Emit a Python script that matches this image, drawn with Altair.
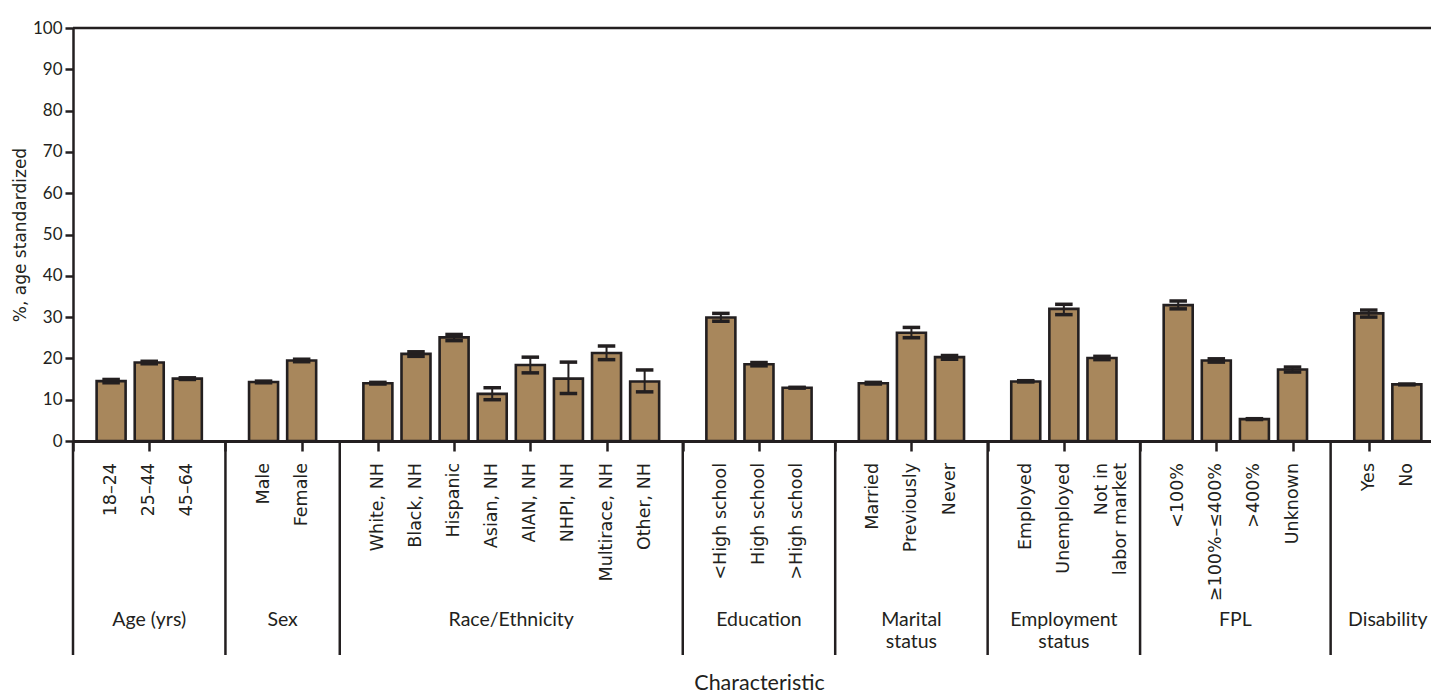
import altair as alt
import pandas as pd

# ---- data ----
groups = ["Age (yrs)", "Sex", "Race/Ethnicity", "Education", "Marital\nstatus",
          "Employment\nstatus", "FPL", "Disability"]
group_cats = [
    ["18–24", "25–44", "45–64"],
    ["Male", "Female"],
    ["White, NH", "Black, NH", "Hispanic", "Asian, NH", "AIAN, NH", "NHPI, NH",
     "Multirace, NH", "Other, NH"],
    ["<High school", "High school", ">High school"],
    ["Married", "Previously", "Never"],
    ["Employed", "Unemployed", "Not in\nlabor market"],
    ["<100%", "≥100%–≤400%", ">400%", "Unknown"],
    ["Yes", "No"],
]
values = [14.5, 19.0, 15.1,
          14.3, 19.5,
          14.0, 21.1, 25.1, 11.4, 18.4, 15.1, 21.3, 14.4,
          29.9, 18.6, 12.9,
          14.0, 26.2, 20.3,
          14.4, 32.0, 20.1,
          32.9, 19.5, 5.3, 17.3,
          30.9, 13.7]
ci_low = [14.1, 18.7, 14.9,
          14.1, 19.2,
          13.8, 20.5, 24.3, 10.0, 16.5, 11.5, 19.7, 11.9,
          29.0, 18.2, 12.8,
          13.8, 25.0, 19.8,
          14.3, 30.6, 19.7,
          32.0, 19.1, 5.2, 16.7,
          30.0, 13.6]
ci_high = [14.9, 19.3, 15.3,
           14.5, 19.8,
           14.2, 21.6, 25.8, 12.9, 20.3, 19.1, 23.0, 17.2,
           30.9, 19.0, 13.0,
           14.2, 27.5, 20.7,
           14.6, 33.1, 20.5,
           33.9, 19.9, 5.4, 17.9,
           31.7, 13.8]
y_ticks = list(range(0, 101, 10))

# ---- build tables (slot positions along the axis) ----
rows, grows, seps = [], [], [0]
slot = 1
i = 0
for g, cats in zip(groups, group_cats):
    start = slot
    for c in cats:
        rows.append({"slot": slot, "cat": c, "group": g, "v": values[i],
                     "lo": ci_low[i], "hi": ci_high[i]})
        slot += 1
        i += 1
    grows.append({"center": (start + slot - 1) / 2, "group": g})
    seps.append(slot)
    slot += 1

df = pd.DataFrame(rows)
gdf = pd.DataFrame(grows)
sdf = pd.DataFrame({"sep": seps})
W, H = 1358, 413
XMAX = W / 38.11
INK = "#231F20"
FILL = "#A8875C"

xs = alt.Scale(domain=[0, XMAX], nice=False, zero=False, padding=0)
ys = alt.Scale(domain=[0, 100], nice=False)

base = alt.Chart(df)

bars = base.mark_bar(size=29, fill=FILL, stroke=INK, strokeWidth=2.6).encode(
    x=alt.X("slot:Q", scale=xs,
            axis=alt.Axis(values=list(range(0, 36)), labels=False, grid=False,
                          tickSize=10, tickWidth=2.5, tickColor=INK,
                          domainColor=INK, domainWidth=3,
                          title="Characteristic", titleFont="Lato",
                          titleFontSize=21.5, titleFontWeight="normal",
                          titleColor=INK, titleY=248, titleBaseline="alphabetic",
                          titleX=686)),
    y=alt.Y("v:Q", scale=ys,
            axis=alt.Axis(values=y_ticks, grid=False, tickSize=8, tickWidth=2.5,
                          tickColor=INK, domainColor=INK, domainWidth=2.5,
                          labelFont="Lato", labelFontSize=17, labelColor=INK,
                          labelPadding=3, title="%, age standardized",
                          titleFont="DejaVu Sans", titleFontSize=17,
                          titleFontWeight="normal", titleColor=INK,
                          titlePadding=3)),
)

err = base.mark_rule(color=INK, strokeWidth=2).encode(
    x="slot:Q", y="lo:Q", y2="hi:Q")

caps_lo = base.transform_calculate(a="datum.slot - 0.23", b="datum.slot + 0.23").mark_rule(
    color=INK, strokeWidth=3.5).encode(x="a:Q", x2="b:Q", y="lo:Q")
caps_hi = base.transform_calculate(a="datum.slot - 0.23", b="datum.slot + 0.23").mark_rule(
    color=INK, strokeWidth=3.5).encode(x="a:Q", x2="b:Q", y="hi:Q")

top_line = alt.Chart(pd.DataFrame({"t": [100]})).mark_rule(
    color=INK, strokeWidth=2.5).encode(y="t:Q", x=alt.value(0), x2=alt.value(W))

cat_labels = base.mark_text(angle=270, align="right", baseline="middle",
                            font="DejaVu Sans", fontSize=17.5, color=INK,
                            lineBreak="\n", lineHeight=19).encode(
    x="slot:Q", y=alt.value(H + 22), text="cat:N")

sep_lines = alt.Chart(sdf).mark_rule(color=INK, strokeWidth=2.5).encode(
    x="sep:Q", y=alt.value(H), y2=alt.value(H + 214))

group_labels = alt.Chart(gdf).mark_text(align="center", baseline="top",
                                        font="Lato", fontSize=19.5, color=INK,
                                        lineBreak="\n", lineHeight=22).encode(
    x="center:Q", y=alt.value(H + 170), text="group:N")

chart = alt.layer(bars, err, caps_lo, caps_hi, top_line, sep_lines,
                  cat_labels, group_labels).properties(
    width=W, height=H,
    autosize=alt.AutoSizeParams(type="none"),
    padding={"left": 65, "top": 20, "right": 0, "bottom": 254},
).configure_view(stroke=None).configure(background="white")

chart.save("out.html", embed_options={"renderer": "svg", "actions": False})
